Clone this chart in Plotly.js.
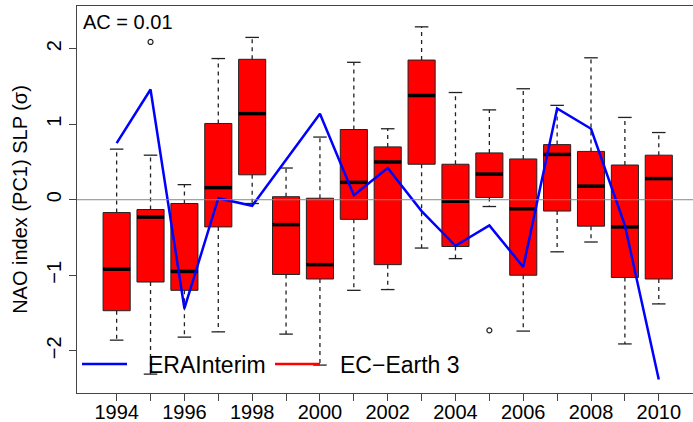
<!DOCTYPE html>
<html>
<head>
<meta charset="utf-8">
<script src="https://cdn.plot.ly/plotly-3.0.1.min.js"></script>
<style>html,body{margin:0;padding:0;background:#fff;}#chart{width:693px;height:422px;}</style>
</head>
<body>
<div id="chart"></div>
<script>
// ---- data ----
const years = [1994,1995,1996,1997,1998,1999,2000,2001,2002,2003,2004,2005,2006,2007,2008,2009,2010];
const upperWhisker = [0.67,0.59,0.20,1.87,2.15,0.42,0.83,1.82,0.94,2.29,1.42,1.19,1.47,1.25,1.88,1.09,0.89];
const q3Values     = [-0.17,-0.13,-0.05,1.01,1.86,0.04,0.02,0.93,0.70,1.85,0.47,0.62,0.54,0.73,0.64,0.46,0.59];
const medianValues = [-0.92,-0.23,-0.95,0.16,1.14,-0.33,-0.86,0.23,0.50,1.38,-0.02,0.34,-0.12,0.60,0.18,-0.36,0.28];
const q1Values     = [-1.47,-1.09,-1.20,-0.36,0.33,-0.99,-1.05,-0.26,-0.86,0.47,-0.62,0.03,-1.00,-0.15,-0.35,-1.03,-1.05];
const lowerWhisker = [-1.86,-2.31,-1.82,-1.75,-0.05,-1.78,-2.19,-1.20,-1.19,-0.64,-0.78,-0.09,-1.74,-0.69,-0.56,-1.91,-1.38];
const outlierYears = [1995,2005];
const outlierValues = [2.09,-1.73];
const eraInterim = [0.75,1.46,-1.44,0.02,-0.08,0.53,1.14,0.06,0.42,-0.15,-0.61,-0.34,-0.89,1.21,0.94,-0.34,-2.38];
const xTickLabels = ['1994','','1996','','1998','','2000','','2002','','2004','','2006','','2008','','2010'];
const yTickVals = [-2,-1,0,1,2];
const yTickLabels = ['\u22122','\u22121','0','1','2'];

// ---- style ----
const BOXW = 0.8, CAPW = 0.4;
const FONT = 'Liberation Sans, Arial, Helvetica, sans-serif';

function segs(xs, ya, yb, dx) {
  const X = [], Y = [];
  xs.forEach((x, i) => {
    if (dx) { X.push(x - dx, x + dx, null); Y.push(ya[i], ya[i], null); }
    else { X.push(x, x, null); Y.push(ya[i], yb[i], null); }
  });
  return {X, Y};
}
const wu = segs(years, q3Values, upperWhisker);
const wl = segs(years, q1Values, lowerWhisker);
const cu = segs(years, upperWhisker, null, CAPW/2);
const cl = segs(years, lowerWhisker, null, CAPW/2);
const md = segs(years, medianValues, null, BOXW/2);

const data = [
  {type:'box', x: years, q1: q1Values, median: medianValues, q3: q3Values,
   lowerfence: q1Values, upperfence: q3Values, width: BOXW, whiskerwidth: 0,
   fillcolor:'rgb(255,0,0)', line:{color:'#222', width:1}, boxpoints:false,
   hoverinfo:'skip', showlegend:false},
  {type:'scatter', mode:'lines', x: wu.X.concat(wl.X), y: wu.Y.concat(wl.Y),
   line:{color:'#222', width:1.3, dash:'4px,4px'}, hoverinfo:'skip', showlegend:false},
  {type:'scatter', mode:'lines', x: cu.X.concat(cl.X), y: cu.Y.concat(cl.Y),
   line:{color:'#222', width:1.3}, hoverinfo:'skip', showlegend:false},
  {type:'scatter', mode:'lines', x: md.X, y: md.Y,
   line:{color:'#000', width:3.5}, hoverinfo:'skip', showlegend:false},
  {type:'scatter', mode:'markers', x: outlierYears, y: outlierValues,
   marker:{symbol:'circle-open', size:5, color:'#222', line:{width:1.2}}, hoverinfo:'skip', showlegend:false},
  {type:'scatter', mode:'lines', x: years, y: eraInterim, name:'ERAInterim',
   line:{color:'#0000FF', width:2.5}, showlegend:false}
];

const L = 77, T = 6, W = 616, H = 387;
const px = v => (v - L) / W, py = v => (T + H - v) / H;

const layout = {
  width:693, height:422,
  margin:{l:L, r:0, t:T, b:422-T-H},
  paper_bgcolor:'#fff', plot_bgcolor:'#fff',
  font:{family:FONT, color:'#000'},
  showlegend:false,
  xaxis:{range:[1992.83, 2011.01], tickvals: years, ticktext: xTickLabels,
    ticks:'outside', ticklen:7, tickcolor:'#444', tickwidth:1, ticklabelstandoff:-6,
    showline:true, linecolor:'#444', linewidth:1, mirror:true,
    showgrid:false, zeroline:false, tickfont:{size:20, family:FONT}},
  yaxis:{range:[-2.56, 2.566], tickvals: yTickVals, ticktext: yTickLabels, tickangle:-90,
    ticks:'outside', ticklen:7, tickcolor:'#444', tickwidth:1,
    showline:true, linecolor:'#444', linewidth:1, mirror:false,
    showgrid:false, zeroline:false, tickfont:{size:20, family:FONT},
    title:{text:'NAO index (PC1) SLP (\u03c3)', font:{size:20, family:FONT}, standoff:10}},
  shapes:[
    {type:'line', xref:'paper', yref:'y', x0:0, x1:1, y0:0, y1:0, line:{color:'#888', width:1}, layer:'above'},
    {type:'line', xref:'paper', yref:'paper', x0:px(82), x1:px(127), y0:py(364), y1:py(364), line:{color:'#0000FF', width:2.5}},
    {type:'line', xref:'paper', yref:'paper', x0:px(275), x1:px(320), y0:py(364), y1:py(364), line:{color:'#FF0000', width:2.5}}
  ],
  annotations:[
    {xref:'paper', yref:'paper', x:px(81), y:py(22), xanchor:'left', yanchor:'middle', showarrow:false,
     text:'AC = 0.01', font:{size:20, family:FONT}},
    {xref:'paper', yref:'paper', x:px(146), y:py(365), xanchor:'left', yanchor:'middle', showarrow:false,
     text:'ERAInterim', font:{size:23, family:FONT}},
    {xref:'paper', yref:'paper', x:px(338), y:py(365), xanchor:'left', yanchor:'middle', showarrow:false,
     text:'EC\u2212Earth 3', font:{size:23, family:FONT}}
  ]
};

Plotly.newPlot('chart', data, layout, {staticPlot:true, displayModeBar:false});
</script>
</body>
</html>
